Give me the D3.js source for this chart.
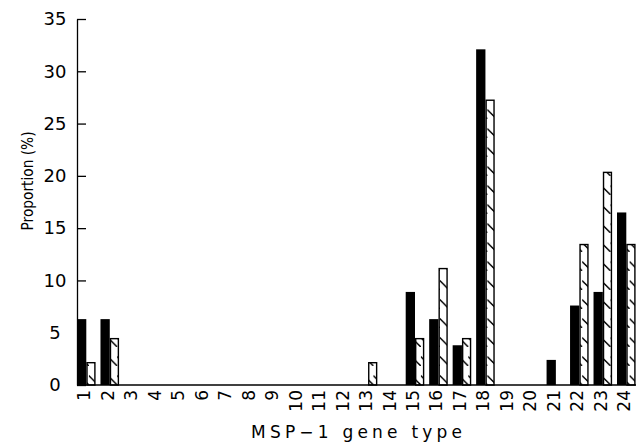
<!DOCTYPE html>
<html>
<head>
<meta charset="utf-8">
<script src="https://cdn.jsdelivr.net/npm/d3@7"></script>
<style>
  body { margin: 0; background: #fff; }
  text { font-family: "DejaVu Sans", sans-serif; fill: #000; }
</style>
</head>
<body>
<svg id="chart" width="636" height="445"></svg>
<script>
// Chart data
var geneTypes = ["1", "2", "3", "4", "5", "6", "7", "8", "9", "10", "11", "12",
                 "13", "14", "15", "16", "17", "18", "19", "20", "21", "22", "23", "24"];
var solidValues = [6.3, 6.3, 0, 0, 0, 0, 0, 0, 0, 0, 0, 0,
                   0, 0, 8.9, 6.3, 3.8, 32.1, 0, 0, 2.4, 7.6, 8.9, 16.5];
var hatchedValues = [2.2, 4.5, 0, 0, 0, 0, 0, 0, 0, 0, 0, 0,
                     2.2, 0, 4.5, 11.2, 4.5, 27.3, 0, 0, 0, 13.5, 20.4, 13.5];
var yTicks = [0, 5, 10, 15, 20, 25, 30, 35];

var svg = d3.select("#chart");

// Scales
var x = d3.scaleBand()
    .domain(geneTypes)
    .range([77, 635.6])
    .paddingInner(0.208)
    .paddingOuter(0);

var xInner = d3.scaleBand()
    .domain(["solid", "hatched"])
    .range([0, x.bandwidth()]);

var y = d3.scaleLinear()
    .domain([0, 35])
    .range([385, 19]);

var rows = geneTypes.map((g, i) => ({ type: g, solid: solidValues[i], hatched: hatchedValues[i] }));

// Hatch patterns, one per hatched bar so the stripes line up with each bar
var defs = svg.append("defs");
var w = xInner.bandwidth();
rows.forEach((d, i) => {
    var p = defs.append("pattern")
        .attr("id", "hatch" + i)
        .attr("patternUnits", "userSpaceOnUse")
        .attr("x", x(d.type) + xInner("hatched"))
        .attr("y", y(0))
        .attr("width", w)
        .attr("height", 19);
    p.append("rect").attr("width", w).attr("height", 19).attr("fill", "#fff");
    p.append("line")
        .attr("x1", -1).attr("y1", 19 - w - 1)
        .attr("x2", w + 1).attr("y2", 20)
        .attr("stroke", "#000").attr("stroke-width", 1.5);
});

// Bars
var groups = svg.append("g").selectAll("g")
    .data(rows)
    .enter().append("g")
    .attr("transform", d => "translate(" + x(d.type) + ",0)");

groups.filter(d => d.solid > 0).append("rect")
    .attr("x", xInner("solid"))
    .attr("y", d => y(d.solid))
    .attr("width", w)
    .attr("height", d => y(0) - y(d.solid))
    .attr("fill", "#000");

groups.filter(d => d.hatched > 0).append("rect")
    .attr("x", xInner("hatched") + 0.7)
    .attr("y", d => y(d.hatched) + 0.7)
    .attr("width", w - 1.4)
    .attr("height", d => y(0) - y(d.hatched) - 0.7)
    .attr("fill", d => "url(#hatch" + rows.indexOf(d) + ")")
    .attr("stroke", "#000")
    .attr("stroke-width", 1.4);

// Y axis, ticks pointing inward
var yAxis = svg.append("g")
    .attr("transform", "translate(77,0)")
    .call(d3.axisLeft(y).tickValues(yTicks).tickSizeInner(-9).tickSizeOuter(0).tickPadding(22));
yAxis.selectAll("path, line").attr("stroke", "#000").attr("stroke-width", 1.3);
yAxis.selectAll("text")
    .attr("text-anchor", "middle")
    .style("font-family", "DejaVu Sans")
    .style("font-size", "18px");

// X axis, just the baseline plus rotated labels
var xAxis = svg.append("g")
    .attr("transform", "translate(0," + y(0) + ")")
    .call(d3.axisBottom(x).tickSize(0).tickSizeOuter(0));
xAxis.select(".domain").attr("stroke", "#000").attr("stroke-width", 1.5)
    .attr("d", "M77,0H636");
xAxis.selectAll("text")
    .attr("transform", "rotate(-90)")
    .attr("text-anchor", "end")
    .attr("x", -5)
    .attr("y", 4)
    .attr("dy", 0)
    .style("font-family", "DejaVu Sans")
    .style("font-size", "17px");

// Axis titles
svg.append("text")
    .attr("x", 251)
    .attr("y", 438)
    .attr("textLength", 211)
    .attr("lengthAdjust", "spacing")
    .style("font-size", "17px")
    .text("MSP\u22121 gene type");

svg.append("text")
    .attr("transform", "translate(33,181) rotate(-90)")
    .attr("text-anchor", "middle")
    .attr("textLength", 99)
    .attr("lengthAdjust", "spacingAndGlyphs")
    .style("font-size", "16.5px")
    .text("Proportion (%)");
</script>
</body>
</html>
